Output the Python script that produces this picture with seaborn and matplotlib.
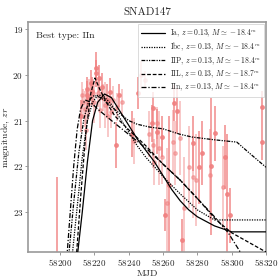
import seaborn as sns
import matplotlib.pyplot as plt
import pandas as pd
import numpy as np

sns.set_style("ticks")
plt.rcParams['font.family'] = ['cmr10', 'DejaVu Serif']
plt.rcParams['mathtext.fontset'] = 'cm'
plt.rcParams['axes.formatter.use_mathtext'] = True

# observations (MJD, magnitude, error); faint flag = lighter points
obs_mjd = [58198.0, 58212.0, 58213.5, 58214.5, 58215.2, 58216.0, 58216.6, 58217.9,
           58219.5, 58221.0, 58221.2, 58222.9, 58223.3, 58224.3, 58226.2, 58229.0,
           58230.0, 58231.0, 58232.6, 58236.0, 58241.7, 58243.0, 58245.6, 58249.5,
           58253.4, 58254.0, 58254.3, 58256.3, 58256.7, 58259.2, 58259.6, 58261.0,
           58265.6, 58266.4, 58268.0, 58269.9, 58270.9, 58275.3, 58277.3, 58277.3,
           58281.1, 58287.4, 58290.3, 58295.1, 58296.1, 58299.0, 58317.8, 58317.8,
           58213.0, 58215.5, 58217.0, 58218.5, 58220.0, 58222.0, 58225.0, 58227.5,
           58228.0, 58233.0, 58234.5, 58247.0, 58252.0, 58255.0, 58257.5, 58262.5,
           58263.5, 58267.0, 58272.0, 58279.0, 58283.0, 58288.0, 58297.5]
obs_mag = [24.6, 20.9, 20.6, 20.75, 21.2, 20.44, 20.63, 20.19,
           20.4, 19.86, 19.97, 20.08, 20.77, 20.26, 20.66, 20.37,
           20.81, 20.55, 21.54, 20.6, 21.3, 21.45, 20.4, 20.11,
           21.06, 21.54, 20.73, 21.06, 21.24, 21.79, 21.35, 23.07,
           21.46, 20.62, 20.79, 21.38, 23.61, 22.02, 21.5, 22.23,
           22.02, 22.19, 21.28, 22.45, 21.79, 23.07, 20.71, 21.46,
           20.45, 20.3, 20.5, 20.35, 20.6, 20.4, 20.5, 20.55,
           20.9, 20.7, 20.45, 20.0, 21.3, 21.9, 21.6, 22.8,
           22.4, 21.7, 22.9, 22.3, 21.7, 22.0, 22.6]
obs_err = [2.37, 0.35, 0.3, 0.4, 0.45, 0.3, 0.35, 0.3,
           0.3, 0.35, 0.3, 0.3, 0.4, 0.3, 0.5, 0.3,
           0.35, 0.3, 0.5, 0.3, 0.5, 0.5, 0.35, 0.2,
           0.4, 0.5, 0.35, 0.35, 0.5, 0.6, 0.45, 0.35,
           0.7, 0.4, 0.5, 0.8, 0.45, 0.9, 0.6, 0.9,
           0.8, 1.0, 0.6, 0.9, 0.7, 0.6, 0.35, 0.4,
           0.3, 0.25, 0.4, 0.3, 0.45, 0.3, 0.3, 0.35,
           0.45, 0.3, 0.25, 0.3, 0.5, 0.5, 0.8, 1.2,
           1.5, 0.7, 1.1, 1.0, 0.7, 1.5, 1.3]
obs_faint = [0, 0, 1, 1, 1, 0, 1, 0,
             1, 0, 0, 0, 1, 0, 1, 0,
             1, 1, 0, 1, 0, 1, 0, 1,
             0, 1, 0, 1, 0, 1, 0, 0,
             1, 0, 0, 1, 0, 1, 0, 1,
             0, 1, 0, 1, 0, 0, 0, 0,
             1, 0, 1, 0, 1, 1, 1, 0,
             1, 1, 0, 1, 1, 1, 1, 1,
             0, 1, 1, 1, 0, 0, 0]

# model light curves
model_mjd = {
    'Ia':  [58210, 58213, 58216, 58219, 58222, 58226, 58230, 58235, 58240, 58245, 58250,
            58255, 58260, 58265, 58270, 58275, 58280, 58290, 58300, 58320],
    'Ibc': [58207, 58210, 58213, 58216, 58219, 58222, 58225, 58230, 58235, 58240, 58245,
            58250, 58256, 58262, 58270, 58280, 58290, 58320],
    'IIP': [58205, 58208, 58211, 58214, 58217, 58220, 58224, 58230, 58235, 58240, 58245,
            58252, 58260, 58270, 58277, 58290, 58303, 58310, 58320],
    'IIL': [58209.5, 58212, 58215, 58218, 58220.4, 58223, 58227, 58232, 58240, 58250,
            58260, 58270, 58280, 58291, 58300, 58320],
    'IIn': [58204, 58206, 58208, 58210, 58212, 58214.6, 58218, 58222, 58230, 58240,
            58250, 58260, 58270, 58280, 58290, 58298, 58305],
}
model_mag = {
    'Ia':  [24.0, 23.0, 21.9, 21.0, 20.6, 20.42, 20.5, 20.8, 21.1, 21.4, 21.65,
            21.9, 22.2, 22.5, 22.75, 22.95, 23.1, 23.3, 23.43, 23.43],
    'Ibc': [24.0, 22.9, 21.8, 21.0, 20.6, 20.45, 20.45, 20.65, 20.95, 21.25, 21.55,
            21.8, 22.05, 22.3, 22.6, 22.95, 23.17, 23.17],
    'IIP': [24.0, 22.8, 21.7, 20.95, 20.55, 20.45, 20.5, 20.7, 20.85, 21.0, 21.08,
            21.14, 21.18, 21.3, 21.36, 21.42, 21.47, 21.7, 22.02],
    'IIL': [24.0, 22.7, 21.3, 20.4, 20.07, 20.3, 20.6, 20.9, 21.2, 21.55,
            21.95, 22.3, 22.7, 23.17, 23.45, 23.87],
    'IIn': [24.0, 23.0, 22.0, 21.2, 20.75, 20.55, 20.6, 20.75, 21.0, 21.3,
            21.6, 21.95, 22.3, 22.7, 23.1, 23.45, 23.87],
}
model_labels = {
    'Ia':  r'Ia, $z=0.13$, $M\simeq-18.4^m$',
    'Ibc': r'Ibc, $z=0.13$, $M\simeq-18.4^m$',
    'IIP': r'IIP, $z=0.13$, $M\simeq-18.4^m$',
    'IIL': r'IIL, $z=0.13$, $M\simeq-18.7^m$',
    'IIn': r'IIn, $z=0.13$, $M\simeq-18.4^m$',
}
model_styles = {
    'Ia': '-',
    'Ibc': (0, (1, 1)),
    'IIP': (0, (3, 1, 1, 1, 1, 1)),
    'IIL': (0, (3, 1.5)),
    'IIn': (0, (4, 1.5, 1, 1.5)),
}

fig = plt.figure(figsize=(2.8, 2.8), dpi=100)
ax = fig.add_axes([0.1, 0.1, 0.85, 0.821])

df_obs = pd.DataFrame({'mjd': obs_mjd, 'mag': obs_mag, 'err': obs_err, 'faint': obs_faint})
for faint, sub in df_obs.groupby('faint'):
    ax.errorbar(sub['mjd'], sub['mag'], yerr=sub['err'], fmt='o', ms=2.5,
                color='#f08080', alpha=0.5 if faint else 0.85, elinewidth=1.2,
                capsize=0, zorder=1)

for name in ['Ia', 'Ibc', 'IIP', 'IIL', 'IIn']:
    d = pd.DataFrame({'mjd': model_mjd[name], 'mag': model_mag[name]})
    sns.lineplot(data=d, x='mjd', y='mag', ax=ax, color='black', lw=0.9,
                 linestyle=model_styles[name], label=model_labels[name], sort=False,
                 zorder=3)

ax.set_xlim(58181.4, 58320)
ax.set_ylim(23.87, 18.85)
ax.set_xticks([58200, 58220, 58240, 58260, 58280, 58300, 58320])
ax.set_yticks([19, 20, 21, 22, 23])
ax.tick_params(labelsize=6.5, length=2.5, width=0.6, color='#888888', pad=1)
for s in ax.spines.values():
    s.set_color('#999999')
    s.set_linewidth(1.2)

ax.set_xlabel('MJD', fontsize=7, labelpad=1)
ax.set_ylabel(r'magnitude, $zr$', fontsize=7, labelpad=0)
ax.set_title('SNAD147', fontsize=8, pad=5)
ax.text(0.035, 0.96, 'Best type: IIn', transform=ax.transAxes, fontsize=7,
        va='top', ha='left')

leg = ax.legend(loc='upper right', fontsize=5.5, handlelength=3.2, frameon=True,
                borderpad=0.4, labelspacing=0.25, handletextpad=0.6,
                borderaxespad=0.3, fancybox=False)
leg.get_frame().set_edgecolor('#cccccc')
leg.get_frame().set_linewidth(0.6)

plt.savefig('out.png', dpi=100)
